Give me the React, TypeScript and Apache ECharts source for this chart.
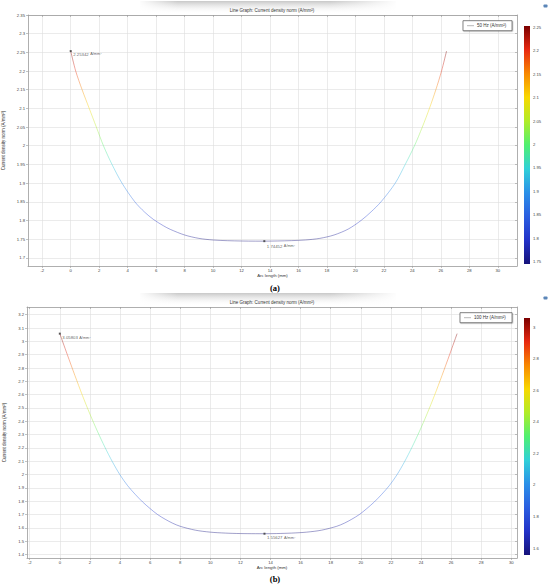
import React, { useEffect, useRef } from "react";
import * as echarts from "echarts";

// ---- data ----
const arcA = [0, 0.35, 0.8, 1.3, 1.8, 2.3, 2.9, 3.6, 4.5, 5.2, 5.8, 6.5, 7, 8, 9, 10, 11, 12, 13, 13.6, 14.5, 15.5, 16.5, 17.5, 18.5, 19.5, 20.4, 21.1, 21.8, 22.8, 23.5, 24.15, 24.7, 25.2, 25.65, 26.05, 26.4];
const densA = [2.25342, 2.2, 2.15, 2.1, 2.05, 2.0, 1.95, 1.9, 1.85, 1.822, 1.803, 1.786, 1.776, 1.761, 1.752, 1.7476, 1.7458, 1.7449, 1.74455, 1.74452, 1.745, 1.7459, 1.7477, 1.752, 1.761, 1.777, 1.8, 1.823, 1.85, 1.9, 1.95, 2.0, 2.05, 2.1, 2.15, 2.2, 2.2534];

const arcB = [0, 0.5, 1, 1.5, 2, 2.5, 3, 3.5, 4, 4.5, 5, 5.5, 6, 6.5, 7, 7.5, 8, 9, 10, 11, 12, 13, 13.6, 14.4, 15.4, 16.4, 17.4, 18.4, 18.9, 19.4, 19.9, 20.4, 20.9, 21.4, 21.9, 22.4, 22.9, 23.4, 23.9, 24.4, 24.9, 25.4, 25.9, 26.4];
const densB = [3.05803, 2.9, 2.745, 2.595, 2.455, 2.325, 2.205, 2.095, 1.998, 1.918, 1.853, 1.795, 1.745, 1.7, 1.665, 1.635, 1.612, 1.583, 1.568, 1.561, 1.5575, 1.5564, 1.55627, 1.5575, 1.561, 1.568, 1.583, 1.612, 1.635, 1.665, 1.7, 1.745, 1.795, 1.853, 1.918, 1.998, 2.095, 2.205, 2.325, 2.455, 2.595, 2.745, 2.9, 3.058];

const markerArcA = [0, 13.6];
const markerDensA = [2.25342, 1.74452];
const markerArcB = [0, 13.6];
const markerDensB = [3.05803, 1.55627];

const xTicks = [-2, 0, 2, 4, 6, 8, 10, 12, 14, 16, 18, 20, 22, 24, 26, 28, 30];
const yTicksA = [1.7, 1.75, 1.8, 1.85, 1.9, 1.95, 2, 2.05, 2.1, 2.15, 2.2, 2.25, 2.3, 2.35];
const yTicksB = [1.4, 1.5, 1.6, 1.7, 1.8, 1.9, 2, 2.1, 2.2, 2.3, 2.4, 2.5, 2.6, 2.7, 2.8, 2.9, 3, 3.1, 3.2];
const barTicksA = [1.75, 1.8, 1.85, 1.9, 1.95, 2, 2.05, 2.1, 2.15, 2.2, 2.25];
const barTicksB = [1.6, 1.8, 2, 2.2, 2.4, 2.6, 2.8, 3];

const legendA = "50 Hz (A/mm²)";
const legendB = "100 Hz (A/mm²)";
const titleText = "Line Graph: Current density norm (A/mm²)";
const xName = "Arc length (mm)";
const yName = "Current density norm (A/mm²)";
const unitText = "A/mm²";
const captionA = "(a)";
const captionB = "(b)";

const rainbow = ["#16127a", "#2232c8", "#2a5ee0", "#2a90e8", "#30d0d8", "#50f070", "#b0ec28", "#f8d800", "#f88800", "#e82810", "#7a0000"];

const FONT = "Liberation Sans, Arial, sans-serif";
const TICK = 4.2;

function plotAxes(grid: number, xMin: number, xMax: number, yMin: number, yMax: number, yTicks: number[]) {
  const line = { show: true, onZero: false, lineStyle: { color: "#9a9a9a", width: 0.8 } };
  const tickStyle = { color: "#9a9a9a", width: 0.6 };
  const split = { show: true, lineStyle: { color: "#dedede", width: 0.6 } };
  const xs = [
    {
      type: "value", gridIndex: grid, min: xMin, max: xMax, position: "bottom",
      name: xName, nameLocation: "middle", nameGap: 7,
      nameTextStyle: { fontSize: 4.3, color: "#333", fontFamily: FONT },
      axisLine: line,
      axisTick: { show: true, customValues: xTicks, length: 2, lineStyle: tickStyle },
      axisLabel: { customValues: xTicks, fontSize: TICK, color: "#444", margin: 2.5, fontFamily: FONT },
      splitLine: split,
    },
    {
      type: "value", gridIndex: grid, min: xMin, max: xMax, position: "top",
      axisLine: line,
      axisTick: { show: true, customValues: xTicks, inside: true, length: 2, lineStyle: tickStyle },
      axisLabel: { show: false },
      splitLine: { show: false },
    },
  ];
  const ys = [
    {
      type: "value", gridIndex: grid, min: yMin, max: yMax, position: "left",
      name: yName, nameLocation: "middle", nameGap: 17.5,
      nameTextStyle: { fontSize: 4.5, color: "#333", fontFamily: FONT },
      axisLine: line,
      axisTick: { show: true, customValues: yTicks, length: 2, lineStyle: tickStyle },
      axisLabel: { customValues: yTicks, fontSize: TICK, color: "#444", margin: 3, fontFamily: FONT },
      splitLine: split,
    },
    {
      type: "value", gridIndex: grid, min: yMin, max: yMax, position: "right",
      axisLine: line,
      axisTick: { show: true, customValues: yTicks, inside: true, length: 2, lineStyle: tickStyle },
      axisLabel: { show: false },
      splitLine: { show: false },
    },
  ];
  return { xs, ys };
}

function barAxes(grid: number, vMin: number, vMax: number, ticks: number[]) {
  return {
    x: { type: "value", gridIndex: grid, show: false, min: 0, max: 1 },
    y: {
      type: "value", gridIndex: grid, min: vMin, max: vMax, position: "right",
      axisLine: { show: false }, axisTick: { show: false },
      axisLabel: { customValues: ticks, fontSize: TICK, color: "#444", margin: 3, fontFamily: FONT },
      splitLine: { show: false },
    },
  };
}

function barGradient() {
  const n = rainbow.length;
  const stops = rainbow.map((c, i) => ({ offset: 1 - i / (n - 1), color: c })).reverse();
  return new echarts.graphic.LinearGradient(0, 0, 0, 1, stops);
}

function shading(y0: number) {
  return [
    {
      type: "rect", silent: true, z: 0, shape: { x: 140, y: y0, width: 256, height: 13 },
      style: { fill: new echarts.graphic.LinearGradient(0, 0, 0, 1, [{ offset: 0, color: "rgba(200,200,200,1)" }, { offset: 1, color: "rgba(255,255,255,0)" }]) },
    },
    {
      type: "rect", silent: true, z: 1, shape: { x: 138, y: y0, width: 40, height: 13 },
      style: { fill: new echarts.graphic.LinearGradient(0, 0, 1, 0, [{ offset: 0, color: "rgba(255,255,255,1)" }, { offset: 1, color: "rgba(255,255,255,0)" }]) },
    },
    {
      type: "rect", silent: true, z: 1, shape: { x: 330, y: y0, width: 68, height: 13 },
      style: { fill: new echarts.graphic.LinearGradient(0, 0, 1, 0, [{ offset: 0, color: "rgba(255,255,255,0)" }, { offset: 1, color: "rgba(255,255,255,1)" }]) },
    },
  ];
}

function legendBox(x: number, y: number, w: number, label: string) {
  return [
    {
      type: "rect", z: 100, shape: { x, y, width: w, height: 10 },
      style: { fill: "#fff", stroke: "#555", lineWidth: 0.7, shadowBlur: 1.5, shadowColor: "rgba(0,0,0,0.35)", shadowOffsetX: 0.6, shadowOffsetY: 0.6 },
    },
    { type: "line", z: 101, shape: { x1: x + 4, y1: y + 5, x2: x + 11, y2: y + 5 }, style: { stroke: "#999", lineWidth: 0.7 } },
    { type: "text", z: 101, style: { text: label, x: x + 14, y: y + 5, fontSize: 4.5, fill: "#333", fontFamily: FONT, verticalAlign: "middle", textAlign: "left" } },
  ];
}

function textEl(text: string, x: number, y: number, size: number, opts: any = {}) {
  return { type: "text", z: 50, style: { text, x, y, fontSize: size, fill: "#333", fontFamily: FONT, textAlign: "center", verticalAlign: "middle", ...opts } };
}

function icon(y: number) {
  return { type: "rect", z: 50, shape: { x: 543.5, y, width: 4, height: 3, r: 0.8 }, style: { fill: "#5b86b8" } };
}

function markerSeries(xi: number, yi: number, arc: number[], dens: number[], offsets: number[][]) {
  return {
    type: "scatter", xAxisIndex: xi, yAxisIndex: yi, z: 5,
    symbol: "rect", symbolSize: 2,
    itemStyle: { color: "#333" },
    data: arc.map((x, i) => ({
      value: [x, dens[i]],
      label: { offset: offsets[i] },
    })),
    label: {
      show: true, position: "right", distance: 1.5,
      formatter: (p: any) => `{v|${p.value[1]}}{u|${unitText}}`,
      rich: {
        v: { fontSize: 4.3, color: "#333", fontFamily: FONT },
        u: { fontSize: 3.8, color: "#333", fontFamily: FONT, padding: [0, 0, 0, 1.5] },
      },
    },
  };
}

export default function App() {
  const ref = useRef<HTMLDivElement>(null);
  useEffect(() => {
    if (!ref.current) return;
    const chart = echarts.init(ref.current, undefined, { renderer: "svg" });

    const minA = Math.min(...densA), maxA = Math.max(...densA);
    const minB = Math.min(...densB), maxB = Math.max(...densB);

    const pa = plotAxes(0, -3, 31.35, 1.678, 2.35, yTicksA);
    const ba = barAxes(1, minA, maxA, barTicksA);
    const pb = plotAxes(2, -2.18, 30.38, 1.374, 3.258, yTicksB);
    const bb = barAxes(3, minB, maxB, barTicksB);

    const g = { outerBoundsMode: "none", containLabel: false };
    const option: any = {
      animation: false,
      backgroundColor: "#fff",
      textStyle: { fontFamily: FONT },
      grid: [
        { ...g, left: 28, top: 15, width: 489, height: 251 },
        { ...g, left: 524, top: 26, width: 6, height: 238, show: true, borderWidth: 0, backgroundColor: barGradient() },
        { ...g, left: 27, top: 307, width: 490, height: 251 },
        { ...g, left: 524, top: 318, width: 6, height: 237, show: true, borderWidth: 0, backgroundColor: barGradient() },
      ],
      xAxis: [pa.xs[0], pa.xs[1], ba.x, pb.xs[0], pb.xs[1], bb.x],
      yAxis: [pa.ys[0], pa.ys[1], ba.y, pb.ys[0], pb.ys[1], bb.y],
      visualMap: [
        { type: "continuous", show: false, seriesIndex: 0, dimension: 1, min: minA, max: maxA, inRange: { color: rainbow } },
        { type: "continuous", show: false, seriesIndex: 2, dimension: 1, min: minB, max: maxB, inRange: { color: rainbow } },
      ],
      series: [
        {
          type: "line", xAxisIndex: 0, yAxisIndex: 0, z: 3, showSymbol: false, smooth: 0.3,
          lineStyle: { width: 0.9, opacity: 0.45 },
          data: arcA.map((x, i) => [x, densA[i]]),
        },
        markerSeries(0, 0, markerArcA, markerDensA, [[0, 3], [0, 5]]),
        {
          type: "line", xAxisIndex: 3, yAxisIndex: 3, z: 3, showSymbol: false, smooth: 0.3,
          lineStyle: { width: 0.9, opacity: 0.45 },
          data: arcB.map((x, i) => [x, densB[i]]),
        },
        markerSeries(3, 3, markerArcB, markerDensB, [[0, 4], [0, 4]]),
      ],
      graphic: [
        ...shading(1),
        ...shading(293),
        textEl(titleText, 272, 10.3, 4.5),
        textEl(titleText, 272, 302.7, 4.5),
        ...legendBox(463, 20.7, 49, legendA),
        ...legendBox(460, 312.7, 52, legendB),
        icon(4.5),
        icon(296.5),
        textEl(captionA, 275, 288, 8.5, { fontWeight: "bold", fontFamily: "Liberation Serif, Times New Roman, serif", fill: "#000" }),
        textEl(captionB, 275, 579, 8.5, { fontWeight: "bold", fontFamily: "Liberation Serif, Times New Roman, serif", fill: "#000" }),
      ],
    };
    chart.setOption(option);
    return () => chart.dispose();
  }, []);
  return <div ref={ref} style={{ position: "fixed", left: 0, top: 0, width: 550, height: 586 }} />;
}
